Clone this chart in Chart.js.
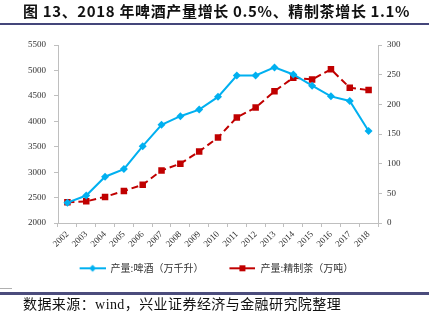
<!DOCTYPE html>
<html>
<head>
<meta charset="utf-8">
<script src="https://cdn.jsdelivr.net/npm/chart.js@4"></script>
<style>
  html, body { margin: 0; padding: 0; background: #fff; }
  #wrap { position: relative; width: 429px; height: 323px; overflow: hidden; }
  #c { position: absolute; left: 0; top: 0; }
  #title { position: absolute; left: 23px; top: 2px; white-space: nowrap; letter-spacing: 0.65px;
    font-family: "Noto Sans CJK SC", sans-serif; font-weight: 700; font-size: 15px; line-height: 17px; color: #111; }
  #tline { position: absolute; left: 0; top: 23px; width: 429px; height: 2px; background: #44467a; }
  #gline { position: absolute; left: 0; top: 288px; width: 12px; height: 1px; background: #b0b0b0; }
  #bline { position: absolute; left: 0; top: 292px; width: 429px; height: 3px; background: #4b4c7c; }
  #src { position: absolute; left: 23px; top: 296px; white-space: nowrap; letter-spacing: 0.42px;
    font-family: "Liberation Serif", "Noto Sans CJK SC", serif; font-size: 14px; line-height: 17px; color: #111; }
</style>
</head>
<body>
<div id="wrap">
  <canvas id="c" width="429" height="323"></canvas>
  <div id="title">图 13、2018 年啤酒产量增长 0.5%、精制茶增长 1.1%</div>
  <div id="tline"></div>
  <div id="gline"></div>
  <div id="bline"></div>
  <div id="src">数据来源：wind，兴业证券经济与金融研究院整理</div>
</div>
<script>
const years = ['2002','2003','2004','2005','2006','2007','2008','2009','2010','2011','2012','2013','2014','2015','2016','2017','2018'];
const beerOutput = [2400, 2540, 2910, 3060, 3510, 3930, 4100, 4230, 4480, 4900, 4900, 5060, 4920, 4700, 4490, 4400, 3810];
const teaOutput = [35, 36.5, 44, 54, 64.5, 88.5, 100, 120.5, 144, 178, 194.5, 222, 245, 242, 259, 228, 224];
const beerLabel = '产量:啤酒（万千升）';
const teaLabel = '产量:精制茶（万吨）';
const leftTicks = [2000, 5500, 500];
const rightTicks = [0, 300, 50];

const BLUE = '#00B0F0';
const RED = '#C00000';
const AXIS = '#bfbfbf';
const TICKC = '#333333';

// legend icon: 16px blank lead-in (item gap) + 26px line with marker
function legendIcon(color, kind) {
  const cv = document.createElement('canvas');
  cv.width = 42; cv.height = 10;
  const g = cv.getContext('2d');
  const o = 16;
  g.fillStyle = color;
  g.fillRect(o, 4, 26, 2);
  if (kind === 'diamond') {
    g.beginPath();
    g.moveTo(o + 13, 1.5); g.lineTo(o + 16.5, 5); g.lineTo(o + 13, 8.5); g.lineTo(o + 9.5, 5); g.closePath();
    g.fill();
  } else {
    g.fillRect(o + 10, 2, 6, 6);
  }
  return cv;
}
const icons = [legendIcon(BLUE, 'diamond'), legendIcon(RED, 'square')];

const tickFont = { family: '"Liberation Serif", "Times New Roman", serif', size: 9 };
const plain = (v) => String(v);

new Chart(document.getElementById('c'), {
  type: 'line',
  data: {
    labels: years,
    datasets: [
      {
        label: beerLabel, data: beerOutput, yAxisID: 'y',
        borderColor: BLUE, backgroundColor: BLUE, borderWidth: 2,
        pointStyle: 'rectRot', pointRadius: 4, pointBorderWidth: 0,
        pointBackgroundColor: BLUE, tension: 0
      },
      {
        label: teaLabel, data: teaOutput, yAxisID: 'y1',
        borderColor: RED, backgroundColor: RED, borderWidth: 2, borderDash: [7, 4],
        pointStyle: 'rect', pointRadius: 4.6, pointBorderWidth: 0,
        pointBackgroundColor: RED, tension: 0
      }
    ]
  },
  options: {
    responsive: false,
    animation: false,
    devicePixelRatio: 1,
    layout: { padding: { top: 45, left: 0, right: 12.2, bottom: 39.7 } },
    plugins: {
      title: { display: false },
      tooltip: { enabled: false },
      legend: {
        display: true,
        position: 'bottom',
        labels: {
          usePointStyle: true,
          pointStyleWidth: 42,
          padding: 10,
          color: TICKC,
          font: { family: '"Noto Sans CJK SC", sans-serif', size: 10 },
          generateLabels: (chart) => chart.data.datasets.map((ds, i) => ({
            text: ds.label,
            pointStyle: icons[i],
            fontColor: TICKC,
            fillStyle: 'transparent',
            strokeStyle: 'transparent',
            lineWidth: 0,
            hidden: false,
            datasetIndex: i
          }))
        }
      }
    },
    scales: {
      x: {
        offset: true,
        grid: { display: true, offset: true, drawOnChartArea: false, drawTicks: true, tickLength: 4, color: AXIS },
        border: { display: true, color: AXIS },
        ticks: { autoSkip: false, maxRotation: 45, minRotation: 45, padding: 2, color: TICKC, font: tickFont },
        afterFit: (s) => { s.height = 30.3; }
      },
      y: {
        position: 'left',
        min: leftTicks[0], max: leftTicks[1],
        grid: { display: true, drawOnChartArea: false, drawTicks: true, tickLength: 4, color: AXIS },
        border: { display: true, color: AXIS },
        ticks: { stepSize: leftTicks[2], padding: 8, color: TICKC, font: tickFont, callback: plain },
        afterFit: (s) => { s.width = 58; }
      },
      y1: {
        position: 'right',
        min: rightTicks[0], max: rightTicks[1],
        grid: { display: true, drawOnChartArea: false, drawTicks: true, tickLength: 4, color: AXIS },
        border: { display: true, color: AXIS },
        ticks: { stepSize: rightTicks[2], padding: 5, color: TICKC, font: tickFont, callback: plain },
        afterFit: (s) => { s.width = 38.8; }
      }
    }
  }
});
</script>
</body>
</html>
